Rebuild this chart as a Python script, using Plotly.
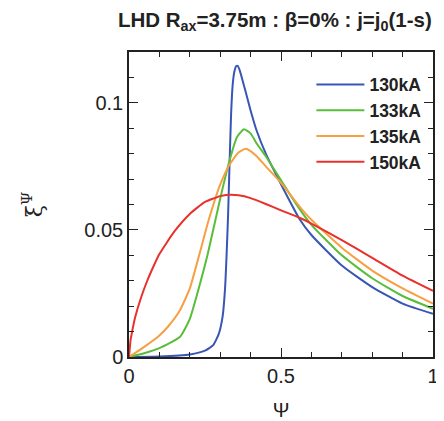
import plotly.graph_objects as go

psi_130 = [0, 0.1, 0.2, 0.25, 0.277, 0.295, 0.308, 0.316, 0.321, 0.326, 0.331, 0.336, 0.341, 0.347, 0.353, 0.358, 0.365, 0.38, 0.4, 0.42, 0.45, 0.5, 0.5625, 0.6, 0.7, 0.8, 0.9, 1.0]
xi_130 = [0, 0.0002, 0.001, 0.0025, 0.0047, 0.009, 0.016, 0.027, 0.04, 0.056, 0.077, 0.096, 0.107, 0.1125, 0.1145, 0.1145, 0.1125, 0.106, 0.097, 0.089, 0.080, 0.068, 0.054, 0.048, 0.036, 0.0275, 0.021, 0.017]

psi_133 = [0, 0.05, 0.1, 0.168, 0.2, 0.234, 0.26, 0.299, 0.33, 0.355, 0.378, 0.4, 0.42, 0.45, 0.5, 0.5625, 0.6, 0.7, 0.8, 0.9, 1.0]
xi_133 = [0, 0.0015, 0.0035, 0.008, 0.015, 0.029, 0.041, 0.0618, 0.077, 0.0865, 0.0896, 0.088, 0.084, 0.079, 0.0695, 0.058, 0.052, 0.040, 0.031, 0.024, 0.019]

psi_135 = [0, 0.05, 0.1, 0.13, 0.168, 0.2, 0.234, 0.26, 0.299, 0.33, 0.36, 0.383, 0.4, 0.42, 0.45, 0.5, 0.5625, 0.6, 0.7, 0.8, 0.9, 1.0]
xi_135 = [0, 0.004, 0.0085, 0.0122, 0.0185, 0.027, 0.0415, 0.053, 0.0675, 0.0755, 0.0805, 0.0819, 0.081, 0.079, 0.075, 0.0685, 0.059, 0.054, 0.043, 0.034, 0.027, 0.021]

psi_150 = [0, 0.005, 0.01, 0.02, 0.04, 0.06, 0.08, 0.1, 0.15, 0.2, 0.25, 0.3, 0.33, 0.36, 0.4, 0.45, 0.5, 0.5625, 0.6, 0.7, 0.8, 0.9, 1.0]
xi_150 = [0, 0.0065, 0.0098, 0.0155, 0.0235, 0.0300, 0.0355, 0.0405, 0.0495, 0.0563, 0.0610, 0.0633, 0.0638, 0.0636, 0.0625, 0.0602, 0.0577, 0.0547, 0.0525, 0.046, 0.039, 0.032, 0.026]

labels = ["130kA", "133kA", "135kA", "150kA"]
colors = ["#3a56b4", "#5abd3a", "#f7a043", "#e8312b"]

fig = go.Figure()
for xs, ys, name, c in zip([psi_130, psi_133, psi_135, psi_150],
                           [xi_130, xi_133, xi_135, xi_150], labels, colors):
    fig.add_trace(go.Scatter(x=xs, y=ys, mode="lines", name="<b>" + name + "</b>",
                             line=dict(color=c, width=2, shape="spline", smoothing=0.5)))

axis_common = dict(showgrid=False, zeroline=False, showline=True, linecolor="#222",
                   linewidth=1.5, mirror="ticks", ticks="inside", tickcolor="#222",
                   automargin=False,
                   tickfont=dict(family="Liberation Sans, Arial", size=20, color="#222"))

fig.update_xaxes(range=[0, 1], tickvals=[0, 0.5, 1], ticktext=["0", "0.5", "1"], ticklen=9,
                 minor=dict(ticks="inside", dtick=0.1, ticklen=5, tickcolor="#222", showgrid=False),
                 title=dict(text="Ψ", font=dict(family="Liberation Sans, Arial", size=20, color="#222"), standoff=20),
                 **axis_common)
fig.update_yaxes(range=[0, 0.12], tickvals=[0, 0.05, 0.1], ticktext=["0", "0.05", "0.1"], ticklen=9,
                 minor=dict(ticks="inside", dtick=0.01, ticklen=5, tickcolor="#222", showgrid=False),
                 title=dict(text="ξ<sup>Ψ</sup>", font=dict(family="DejaVu Serif, serif", size=22, color="#222"), standoff=36),
                 **axis_common)

fig.update_layout(
    width=436, height=413,
    margin=dict(l=121, r=11, t=44, b=64, autoexpand=False),
    paper_bgcolor="white", plot_bgcolor="white",
    title=dict(text="<b>LHD R<sub>ax</sub>=3.75m : β=0% : j=j<sub>0</sub>(1-s)</b>",
               x=0.612, xanchor="center", y=0.971, yanchor="middle",
               font=dict(family="Liberation Sans, Arial", size=20.5, color="#222")),
    legend=dict(x=0.6, y=0.952, xanchor="left", yanchor="top", bgcolor="rgba(0,0,0,0)",
                font=dict(family="Liberation Sans, Arial", size=17.5, color="#222"),
                tracegroupgap=0, itemwidth=48),
    showlegend=True,
)

fig.write_html("out.html")
